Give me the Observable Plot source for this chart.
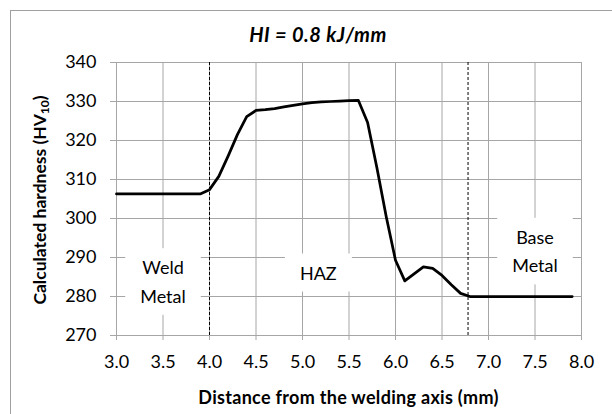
<!DOCTYPE html>
<html><head><meta charset="utf-8">
<script src="https://cdn.jsdelivr.net/npm/d3@7"></script>
<script src="https://cdn.jsdelivr.net/npm/@observablehq/plot@0.6"></script>
<style>
html,body{margin:0;padding:0;background:#fff;overflow:hidden;width:612px;height:414px}
#wrap{position:relative;width:612px;height:414px;overflow:hidden}
#border{position:absolute;left:10px;top:10px;width:700px;height:500px;border-left:1px solid #a0a0a0;border-top:1px solid #a0a0a0;}
#chart{position:absolute;left:0;top:0}
</style></head><body>
<div id="wrap"><div id="border"></div><div id="chart"></div></div>
<script>
const distance = [3.0,3.1,3.2,3.3,3.4,3.5,3.6,3.7,3.8,3.9,
  4.0,4.1,4.2,4.3,4.4,4.5,4.6,4.7,4.8,4.9,
  5.0,5.1,5.2,5.3,5.4,5.5,5.6,5.7,5.8,5.9,
  6.0,6.1,6.2,6.3,6.4,6.5,6.6,6.7,6.8,6.9,
  7.0,7.1,7.2,7.3,7.4,7.5,7.6,7.7,7.8,7.9];
const hardness = [306.3,306.3,306.3,306.3,306.3,306.3,306.3,306.3,306.3,306.3,
  307.4,310.8,316.0,321.5,326.1,327.7,327.9,328.2,328.6,329.0,
  329.4,329.7,329.9,330.0,330.1,330.2,330.3,324.6,313.0,300.5,
  289.3,284.0,285.8,287.6,287.2,285.4,283.0,280.8,280.0,280.0,
  280.0,280.0,280.0,280.0,280.0,280.0,280.0,280.0,280.0,280.0];
const xTicks = [3.0,3.5,4.0,4.5,5.0,5.5,6.0,6.5,7.0,7.5,8.0];
const yTicks = [270,280,290,300,310,320,330,340];
const boundaries = [4.0, 6.78];
const zoneLabels = ["Weld\nMetal","HAZ","Base\nMetal"];
const zoneX = [3.5, 5.17, 7.5];
const zoneY = [284.4, 286.7, 292.2];
const title = "HI = 0.8 kJ/mm";
const xLabel = "Distance from the welding axis (mm)";
const yLabelMain = "Calculated hardness (HV";
const yLabelSub = "10";

const curve = distance.map((d,i)=>({x:d,y:hardness[i]}));
const zones = zoneLabels.map((t,i)=>({t,x:zoneX[i],y:zoneY[i]}));
const grid = "#a6a6a6";

const plot = Plot.plot({
  width:612, height:414,
  marginLeft:116, marginRight:31, marginTop:62, marginBottom:79,
  style:{fontFamily:"Lato, sans-serif", fontSize:"18px", color:"#000", background:"transparent"},
  x:{domain:[3,8], label:null},
  y:{domain:[270,340], label:null},
  marks:[
    Plot.gridX(xTicks,{stroke:grid, strokeOpacity:1}),
    Plot.gridY(yTicks,{stroke:grid, strokeOpacity:1}),
    Plot.axisX(xTicks,{tickSize:5, tickPadding:15, stroke:grid, strokeOpacity:1, tickFormat:d=>d.toFixed(1), label:null, fontSize:18}),
    Plot.axisY(yTicks,{tickSize:6, tickPadding:14, stroke:grid, strokeOpacity:1, label:null, fontSize:18}),
    Plot.ruleX(boundaries,{stroke:"#000", strokeDasharray:"3,2", strokeWidth:1}),
    Plot.text(zones,{x:"x", y:"y", text:"t", lineHeight:1.59, fill:"#000", fontSize:18, className:"zone"}),
    Plot.line(curve,{x:"x", y:"y", stroke:"#000", strokeWidth:2.75, strokeLinejoin:"round"})
  ]
});
document.getElementById("chart").appendChild(plot);

const svg = d3.select(plot);
// white label boxes behind zone texts
const zg = svg.select("g.zone");
zg.selectAll("text").each(function(){
  const b = this.getBBox();
  const t = this.getAttribute("transform");
  zg.insert("rect","text")
    .attr("x", b.x-15).attr("y", b.y-8)
    .attr("width", b.width+30).attr("height", b.height+16)
    .attr("transform", t)
    .attr("fill","#fff");
});

svg.append("text").text(title)
  .attr("x",318).attr("y",37)
  .attr("text-anchor","middle").attr("dominant-baseline","middle")
  .attr("font-weight","bold").attr("font-style","italic").attr("font-size",20)
  .attr("letter-spacing","0.5px");

svg.append("text").text(xLabel)
  .attr("x",348.5).attr("y",399)
  .attr("text-anchor","middle").attr("dominant-baseline","middle")
  .attr("font-weight","bold").attr("font-size",18).attr("letter-spacing","0.3px");

const yl = svg.append("text")
  .attr("transform","translate(42,200) rotate(-90)")
  .attr("text-anchor","middle").attr("dominant-baseline","middle")
  .attr("font-weight","bold").attr("font-size",17.5);
yl.append("tspan").text(yLabelMain);
yl.append("tspan").text(yLabelSub).attr("font-size",12).attr("dy",4);
yl.append("tspan").text(")").attr("dy",-4);
</script>
</body></html>
